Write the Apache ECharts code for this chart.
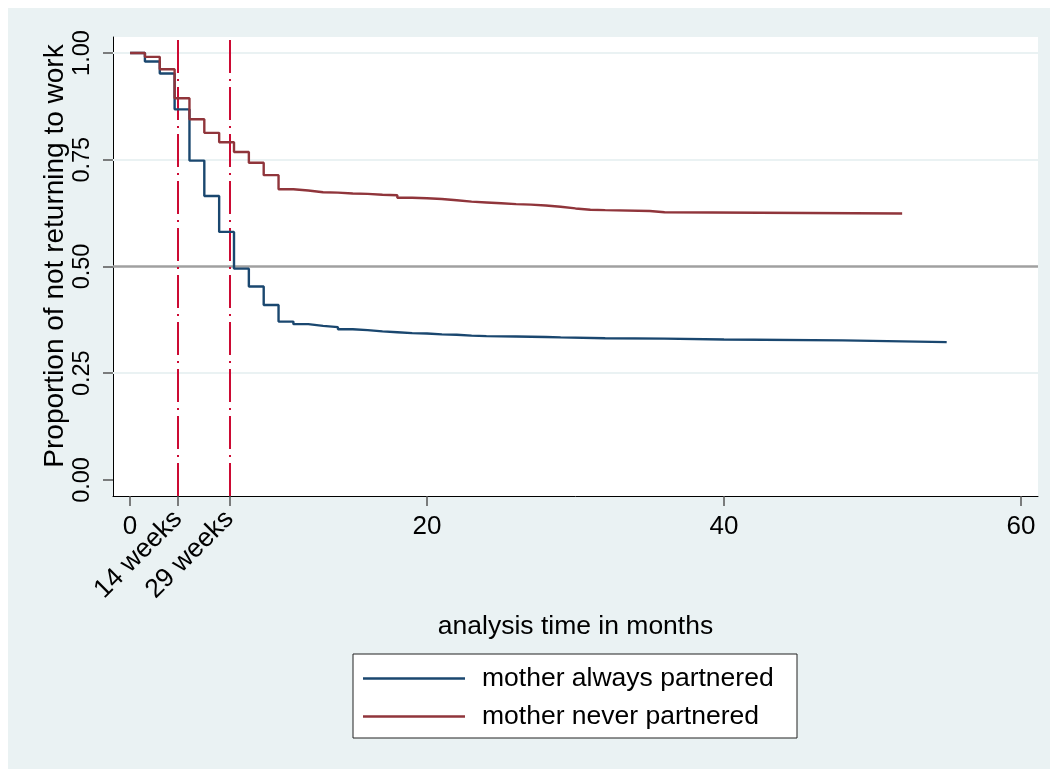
<!DOCTYPE html>
<html><head><meta charset="utf-8">
<script src="https://cdn.jsdelivr.net/npm/echarts@6/dist/echarts.min.js"></script>
<style>html,body{margin:0;padding:0;background:#fff}#c{width:1050px;height:769px}</style>
</head><body><div id="c"></div>
<script>
// Kaplan-Meier step data (time in months, proportion not returned to work)
const blueTimes = [0,1,2,3,4,5,6,7,8,9,10,11,12,13,14,15,16,17,18,19,20,21,22,23,24,26,28,29,32,36,40,48,55];
const blueSurv  = [1.000,0.980,0.952,0.868,0.748,0.665,0.581,0.495,0.453,0.410,0.371,0.365,0.361,0.358,0.353,0.351,0.348,0.346,0.344,0.343,0.341,0.340,0.338,0.337,0.336,0.335,0.334,0.332,0.331,0.329,0.327,0.323,0.323];
const redTimes  = [0,1,2,3,4,5,6,7,8,9,10,11,12,13,14,15,16,17,18,19,20,21,22,23,24,25,26,27,28,29,30,31,32,35,36,52];
const redSurv   = [1.000,0.991,0.962,0.894,0.845,0.813,0.791,0.768,0.743,0.714,0.681,0.678,0.674,0.673,0.671,0.670,0.668,0.667,0.661,0.660,0.658,0.655,0.652,0.650,0.648,0.646,0.645,0.643,0.640,0.636,0.633,0.632,0.630,0.627,0.624,0.624];
const seriesNames = ['mother always partnered','mother never partnered'];
const xTickValues = [0,20,40,60];
const weekMarks = [14,29];
const weekLabels = ['14 weeks','29 weeks'];
const yTickValues = [0,0.25,0.5,0.75,1];
const yGridValues = [0.25,0.75,1];
const refLineY = 0.5;
const yTitle = 'Proportion of not returning to work';

const FONT = "'Liberation Sans', Arial, sans-serif";
const weekMonths = weekMarks.map(w => w * 12 / 52);
const zip = (t, s) => t.map((v, i) => [v, s[i]]);
const XMIN = -1.15, XMAX = 61.15, YMIN = -0.0375, YMAX = 1.0375;

const chart = echarts.init(document.getElementById('c'));
chart.setOption({
  backgroundColor: '#eaf2f3',
  animation: false,
  textStyle: { fontFamily: FONT },
  grid: { left: 113, top: 37, right: 12, bottom: 273, show: true, backgroundColor: '#ffffff', borderWidth: 0 },
  xAxis: [{
    type: 'value', min: XMIN, max: XMAX, position: 'bottom',
    axisLine: { show: true, onZero: false, lineStyle: { color: '#000', width: 1 } },
    axisTick: { show: true, customValues: [0].concat(weekMonths, xTickValues.slice(1)), length: 10, lineStyle: { color: '#555', width: 1.5 } },
    axisLabel: { show: true, customValues: xTickValues, fontSize: 26, color: '#000', margin: 18, fontFamily: FONT },
    splitLine: { show: false },
    name: 'analysis time in months', nameLocation: 'middle', nameGap: 117,
    nameTextStyle: { fontSize: 26.5, color: '#000', fontFamily: FONT }
  }, {
    type: 'value', min: XMIN, max: XMAX, position: 'bottom',
    axisLine: { show: false }, axisTick: { show: false }, splitLine: { show: false },
    axisLabel: { show: true, customValues: weekMonths, rotate: 45, fontSize: 26.5, color: '#000', margin: 19, fontFamily: FONT,
      formatter: v => { const i = weekMonths.findIndex(m => Math.abs(m - v) < 1e-6); return i >= 0 ? weekLabels[i] : ''; } }
  }],
  yAxis: {
    type: 'value', min: YMIN, max: YMAX,
    axisLine: { show: true, onZero: false, lineStyle: { color: '#000', width: 1 } },
    axisTick: { show: true, customValues: yTickValues, length: 10, lineStyle: { color: '#555', width: 1.5 } },
    axisLabel: { show: true, customValues: yTickValues, rotate: 90, fontSize: 23.5, color: '#000', margin: 18, fontFamily: FONT,
      formatter: v => v.toFixed(2) },
    splitLine: { show: false }
  },
  legend: {
    orient: 'vertical', left: 363, top: 665, padding: 0, itemWidth: 102, itemHeight: 2.5, itemGap: 11, icon: 'rect', z: 10,
    data: seriesNames,
    textStyle: { fontSize: 26.5, color: '#000', fontFamily: FONT, lineHeight: 26, padding: [0, 0, 0, 12] }
  },
  graphic: [
    { type: 'rect', z: 0, silent: true, shape: { x: 0, y: 0, width: 1050, height: 8 }, style: { fill: '#ffffff' } },
    { type: 'rect', z: 0, silent: true, shape: { x: 0, y: 0, width: 8, height: 769 }, style: { fill: '#ffffff' } },
    { type: 'rect', z: 1, shape: { x: 353, y: 654, width: 444, height: 84 }, style: { fill: '#fff', stroke: '#222', lineWidth: 1 } },
    { type: 'text', x: 55, y: 256, rotation: Math.PI / 2, z: 5,
      style: { text: yTitle, fontSize: 28, fontFamily: FONT, fill: '#000', align: 'center', verticalAlign: 'middle' } }
  ],
  series: [{
    type: 'line', name: '_grid', data: [], silent: true, z: 1,
    markLine: { silent: true, symbol: 'none', z: 1, label: { show: false },
      lineStyle: { color: '#eaf2f3', width: 2, type: 'solid' },
      data: yGridValues.map(v => ({ yAxis: v })).concat([{ yAxis: refLineY, lineStyle: { color: '#a0a0a0', width: 2.5 } }]) }
  }, {
    type: 'line', name: '_weeks', data: [], silent: true, z: 2,
    markLine: { silent: true, symbol: 'none', z: 2, label: { show: false },
      lineStyle: { color: '#cc0a33', width: 2, type: [33, 6, 2, 6] },
      data: weekMonths.map(v => ({ xAxis: v })) }
  }, {
    type: 'line', name: seriesNames[0], data: zip(blueTimes, blueSurv), step: 'end', showSymbol: false, z: 6,
    itemStyle: { color: '#1a476f' }, lineStyle: { color: '#1a476f', width: 2.4 }
  }, {
    type: 'line', name: seriesNames[1], data: zip(redTimes, redSurv), step: 'end', showSymbol: false, z: 6,
    itemStyle: { color: '#90353b' }, lineStyle: { color: '#90353b', width: 2.4 }
  }]
});
</script></body></html>
